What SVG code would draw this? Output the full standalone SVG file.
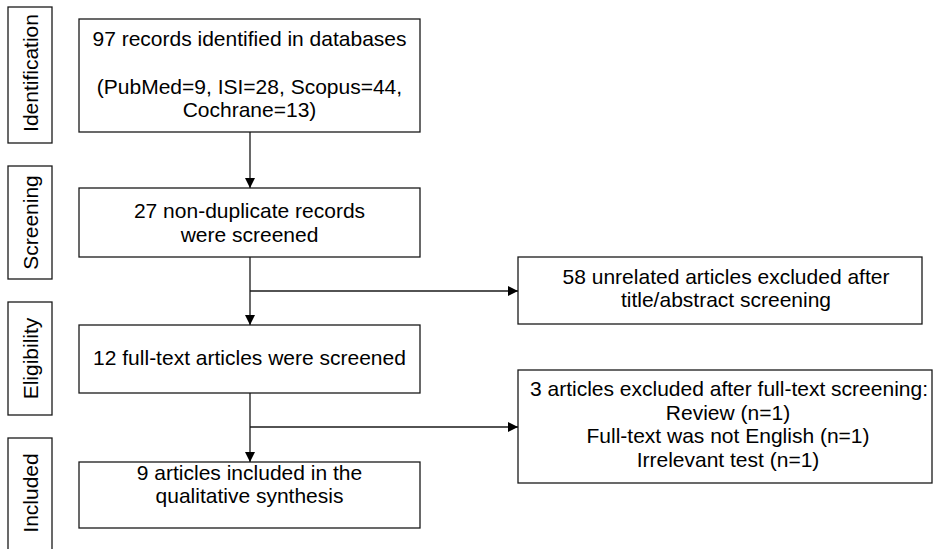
<svg xmlns="http://www.w3.org/2000/svg" width="933" height="549" viewBox="0 0 933 549">
<style>
.box{fill:#fff;stroke:#1a1a1a;stroke-width:1.3}
.t{font-family:"Liberation Sans",Arial,sans-serif;font-size:21px;fill:#000;text-anchor:middle}
.ln{stroke:#1a1a1a;stroke-width:1.3;fill:none}
</style>
<defs>
<marker id="ah" viewBox="0 0 10 10" refX="10" refY="5" markerWidth="10" markerHeight="10" markerUnits="userSpaceOnUse" orient="auto">
<path d="M0,0 L10,5 L0,10 Z" fill="#000"/>
</marker>
</defs>
<g id="stage-identification"><rect class="box" x="8" y="7" width="44" height="136"/><text class="t" transform="translate(37.5,73) rotate(-90)">Identification</text></g>
<g id="stage-screening"><rect class="box" x="8" y="166" width="44" height="113"/><text class="t" transform="translate(37.5,222.5) rotate(-90)">Screening</text></g>
<g id="stage-eligibility"><rect class="box" x="8" y="302" width="44" height="113"/><text class="t" transform="translate(37.5,358.5) rotate(-90)">Eligibility</text></g>
<g id="stage-included"><rect class="box" x="8" y="438" width="44" height="120"/><text class="t" transform="translate(37.5,493) rotate(-90)">Included</text></g>
<g id="n1"><rect class="box" x="79" y="19" width="341" height="113"/><text class="t" x="249.5" y="46">97 records identified in databases</text><text class="t" x="249.5" y="94">(PubMed=9, ISI=28, Scopus=44,</text><text class="t" x="249.5" y="116.5">Cochrane=13)</text></g>
<g id="n2"><rect class="box" x="79" y="188" width="341" height="69"/><text class="t" x="249.5" y="218">27 non-duplicate records</text><text class="t" x="249.5" y="241.5">were screened</text></g>
<g id="n3"><rect class="box" x="79" y="325" width="341" height="68"/><text class="t" x="249.5" y="365">12 full-text articles were screened</text></g>
<g id="n4"><rect class="box" x="79" y="462" width="341" height="66"/><text class="t" x="249.5" y="480">9 articles included in the</text><text class="t" x="249.5" y="502.5">qualitative synthesis</text></g>
<g id="x1"><rect class="box" x="518" y="257" width="404" height="67"/><text class="t" x="726" y="284">58 unrelated articles excluded after</text><text class="t" x="726" y="307">title/abstract screening</text></g>
<g id="x2"><rect class="box" x="518" y="370" width="414" height="113"/><text class="t" x="729" y="396">3 articles excluded after full-text screening:</text><text class="t" x="728" y="419.5">Review (n=1)</text><text class="t" x="728" y="443">Full-text was not English (n=1)</text><text class="t" x="728" y="466.5">Irrelevant test (n=1)</text></g>
<g id="connectors">
<line class="ln" x1="250" y1="132" x2="250" y2="188" marker-end="url(#ah)"/>
<line class="ln" x1="250" y1="257" x2="250" y2="325" marker-end="url(#ah)"/>
<line class="ln" x1="250" y1="291" x2="518" y2="291" marker-end="url(#ah)"/>
<line class="ln" x1="250" y1="393" x2="250" y2="462" marker-end="url(#ah)"/>
<line class="ln" x1="250" y1="427" x2="518" y2="427" marker-end="url(#ah)"/>
</g>
</svg>
